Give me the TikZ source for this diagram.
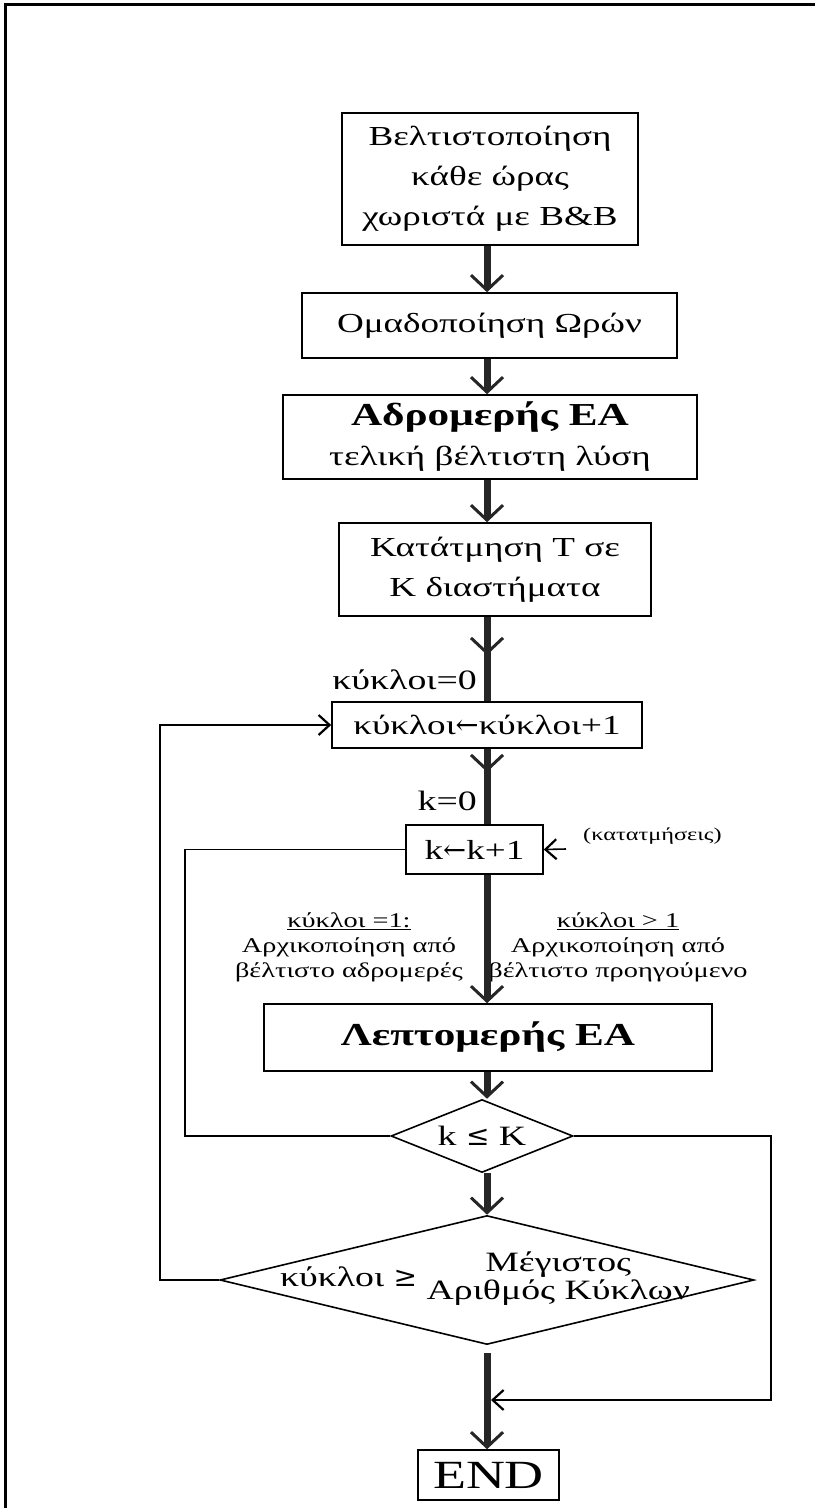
\documentclass[tikz,border=0pt]{standalone}
\usepackage{fontspec}
\setmainfont[FakeStretch=1.35]{Liberation Serif}
\newfontfamily\symf{DejaVu Serif}
\usetikzlibrary{shapes.geometric,arrows.meta}
\newcommand\myfs[2]{\fontsize{#1}{#2}\selectfont}
\begin{document}
\begin{tikzpicture}[x=1pt,y=-1pt,
  box/.style={draw, line width=1.6pt, inner sep=0pt, align=center, font=\myfs{27.5}{40}},
  dia/.style={draw, diamond, line width=1.6pt, inner sep=0pt},
  txt/.style={inner sep=0pt, align=center, font=\myfs{28}{28}},
  lbl/.style={inner sep=0pt, font=\myfs{28}{34}},
  note/.style={inner sep=0pt, align=center, font=\myfs{21}{25}},
  small/.style={inner sep=0pt, font=\myfs{18}{20}},
  spine/.style={line width=7pt, draw=black!85},
  sparrow/.style={spine, -{Straight Barb[length=15pt,width=32pt,line width=3pt]}},
  thinline/.style={line width=1.6pt},
  thinarrow/.style={thinline, -{Straight Barb[length=11pt,width=20pt,line width=2.2pt]}}]
\useasboundingbox (0,0) rectangle (815,1508);
\draw[line width=3pt] (5,1508) -- (5,4) -- (815,4);
\coordinate (sp) at (487,0);
\coordinate (lx) at (160,0);
\coordinate (ix) at (185,0);
\coordinate (rx) at (771,0);
\coordinate (j1) at (491,1400);
\coordinate (m1) at (487,655);
\coordinate (m2) at (487,772);
\coordinate (kt) at (566,849);

\node[box, minimum width=296pt, minimum height=132pt] (b1) at (490,179) {Βελτιστοποίηση\\κάθε ώρας\\χωριστά με B\&B};
\node[box, minimum width=375pt, minimum height=65pt] (b2) at (489.5,325.5) {Ομαδοποίηση Ωρών};
\node[box, minimum width=414pt, minimum height=84pt] (b3) at (490,437) {{\bfseries\myfs{32}{38}Αδρομερής ΕΑ}\\τελική βέλτιστη λύση};
\node[box, minimum width=312pt, minimum height=93pt] (b4) at (495,569.5) {Κατάτμηση Τ σε\\Κ διαστήματα};
\node[box, minimum width=310pt, minimum height=46pt] (b5) at (487,725) {κύκλοι{\symf ←}κύκλοι+1};
\node[box, minimum width=137pt, minimum height=49pt] (b6) at (474.5,849.5) {k{\symf ←}k+1};
\node[box, minimum width=448pt, minimum height=67pt, font=\bfseries\myfs{32}{38}] (b7) at (488,1037.5) {Λεπτομερής ΕΑ};
\node[dia, minimum width=182pt, minimum height=73pt] (d1) at (482,1136) {};
\node[txt] (d1t) at (d1.center) {k {\symf ≤} K};
\node[dia, minimum width=534pt, minimum height=129pt] (d2) at (487,1280) {};
\node[txt] (d2t) at (485,1280) {κύκλοι {\symf ≥} \begin{tabular}{@{}c@{}}Μέγιστος\\Αριθμός Κύκλων\end{tabular}};
\node[box, minimum width=141pt, minimum height=50pt, font=\myfs{40}{44}] (end) at (488.5,1475) {END};

\node[lbl, anchor=east] (c0) at (477,680) {κύκλοι=0};
\node[lbl, anchor=east] (k0) at (477,801) {k=0};
\node[small, anchor=west] (kat) at (583,836) {(κατατμήσεις)};
\node[note] (nl) at (349,947) {\underline{κύκλοι =1:}\\Αρχικοποίηση από\\βέλτιστο αδρομερές};
\node[note] (nr) at (618,947) {\underline{κύκλοι > 1}\\Αρχικοποίηση από\\βέλτιστο προηγούμενο};

\draw[sparrow] (b1.south -| sp) -- (b2.north -| sp);
\draw[sparrow] (b2.south -| sp) -- (b3.north -| sp);
\draw[sparrow] (b3.south -| sp) -- (b4.north -| sp);
\draw[spine] (b4.south -| sp) -- (b5.north -| sp);
\draw[sparrow] (b4.south -| sp) -- (m1);
\draw[spine] (b5.south -| sp) -- (b6.north -| sp);
\draw[sparrow] (b5.south -| sp) -- (m2);
\draw[sparrow] (b6.south -| sp) -- (b7.north -| sp);
\draw[sparrow] (b7.south -| sp) -- (d1.north -| sp);
\draw[sparrow] (d1.south -| sp) -- (d2.north -| sp);
\draw[sparrow] ([yshift=-8pt]d2.south -| sp) -- (end.north -| sp);

\draw[thinarrow] (d2.west) -- (d2.west -| lx) -- (b5.west -| lx) -- (b5.west);
\draw[thinline] (b6.west) -- (b6.west -| ix) -- (d1.west -| ix) -- (d1.west);
\draw[thinarrow] (d1.east) -- (d1.east -| rx) -- (rx |- j1) -- (j1);
\draw[thinarrow] (kt) -- (b6.east);
\end{tikzpicture}
\end{document}
